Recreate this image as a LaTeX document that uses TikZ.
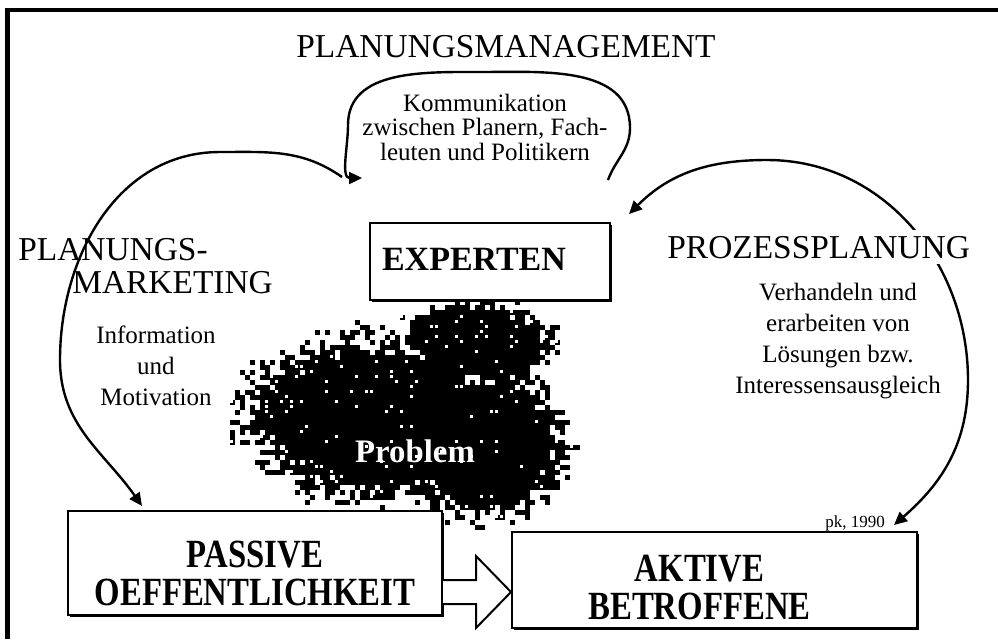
\documentclass[tikz,border=0pt]{standalone}
\usepackage{fontspec}
\setmainfont{Liberation Serif}
\newfontfamily\narrowserif[FakeStretch=0.82]{Liberation Serif}
\usetikzlibrary{arrows.meta, positioning, calc, shadows}

\begin{document}
\begin{tikzpicture}[
    x=0.5pt, y=0.5pt,
    heading/.style={font=\fontsize{16.7}{20}\selectfont, inner sep=0pt},
    remark/.style={font=\fontsize{12.5}{15.5}\selectfont, align=center, inner sep=0pt},
    box/.style={draw, line width=1pt, fill=white,
                drop shadow={shadow xshift=1.2pt, shadow yshift=-1.2pt, fill=black, opacity=1}},
    boxtext/.style={font=\bfseries\fontsize{17}{18.5}\selectfont, align=center, inner sep=0pt},
    grouptext/.style={font=\narrowserif\bfseries\fontsize{20}{19}\selectfont, align=center, inner sep=0pt},
    loopline/.style={line width=1.2pt},
    onehead/.style={-{Triangle[length=6.5pt, width=6pt]}},
    twoheads/.style={{Triangle[length=6.5pt, width=6pt]}-{Triangle[length=6.5pt, width=6pt]}},
    blockarrow/.style={draw, line width=1pt, fill=white, line join=miter}
  ]
  \useasboundingbox (0,0) rectangle (998,-639);

  % Frame, only top and left edge
  \draw[line width=2.4pt] (998,-10) -- (7.5,-10) -- (7.5,-639);

  % Problem cloud: grid of dots, solid inside three ellipses, thinning out at their rims
  \pgfmathsetseed{1990}
  \foreach \gx in {230,235,...,600} {
    \foreach \gy in {290,295,...,550} {
      \pgfmathsetmacro\dist{min(sqrt(((\gx-475)/80)^2+((\gy-340)/42)^2),
        sqrt(((\gx-370)/135)^2+((\gy-415)/85)^2), sqrt(((\gx-480)/88)^2+((\gy-440)/80)^2))}
      \pgfmathsetmacro\cut{0.72+0.42*rnd}
      \pgfmathsetmacro\speck{rnd}
      \ifdim\dist pt<\cut pt
        \fill (\gx,-\gy) rectangle ++(4.6,-4.6);
        \ifdim\speck pt<0.06pt \fill[white] (\gx,-\gy) rectangle ++(2.5,-2.5); \fi
      \fi
    }
  }

  % Boxes
  \node[box, minimum width=120pt, minimum height=38.5pt] (experten) at (490,-261.5) {};
  \node[box, minimum width=187pt, minimum height=52pt] (passive) at (255,-563) {};
  \node[box, minimum width=202.5pt, minimum height=48pt] (aktive) at (714.5,-580) {};

  \node[boxtext] (expertenlabel) at ($(experten)+(-16,2.5)$) {EXPERTEN};
  \node[grouptext] (passivelabel) at ($(passive)+(0,-10)$) {PASSIVE\\OEFFENTLICHKEIT};
  \node[grouptext] (aktivelabel) at ($(aktive)+(-15,-7)$) {AKTIVE\\BETROFFENE};

  % Open arrow from passive to active
  \draw[blockarrow] (passive.east |- 0,-580) -- (476,-580) -- (476,-556)
    -- (aktive.west |- 0,-592) -- (476,-628) -- (476,-604) -- (passive.east |- 0,-604);

  % Loops round the boxes
  \coordinate (lstart) at ($(experten.north west)+(-27,45)$);
  \coordinate (lend) at ($(passive.north west)+(75,4)$);
  \draw[loopline, onehead] (lstart) to[out=145,in=0] (220,-152)
    to[out=180,in=90] (60,-360) to[out=-90,in=125] (lend);

  \coordinate (rstart) at ($(experten.north east)+(18,8)$);
  \coordinate (rend) at ($(aktive.north east)+(-24,6)$);
  \draw[loopline, twoheads] (rstart) to[out=45,in=180] (767,-160)
    to[out=0,in=90] (968,-380) to[out=-90,in=41] (rend);

  \coordinate (kstart) at ($(experten.north east)+(-3,42)$);
  \coordinate (kend) at ($(experten.north west)+(-7,44)$);
  \draw[loopline, onehead] (kstart) to[out=70,in=-90] (630,-128)
    to[out=90,in=0] (480,-72) to[out=180,in=90] (348,-125) to[out=-90,in=180] (kend);

  % Labels
  \node[heading, anchor=base] (mgmt) at (506,-57) {PLANUNGSMANAGEMENT};
  \node[heading, anchor=base west] (mkt1) at (18,-260) {PLANUNGS-};
  \node[heading, anchor=base west] (mkt2) at (72,-293) {MARKETING};
  \node[heading, anchor=base west, fill=white, inner ysep=3pt] (prozess) at (667,-258) {PROZESSPLANUNG};

  \node[remark, font=\fontsize{12.5}{12.25}\selectfont] (komm) at (485,-127)
    {Kommunikation\\zwischen Planern, Fach-\\leuten und Politikern};
  \node[remark] (info) at (156,-365.5) {Information\\und\\Motivation};
  \node[remark] (verh) at (838,-340.7)
    {Verhandeln und\\erarbeiten von\\Lösungen bzw.\\Interessensausgleich};

  \node[font=\bfseries\fontsize{16.4}{18}\selectfont, text=white, anchor=base, inner sep=0pt]
    (problem) at (415,-462) {Problem};
  \node[font=\fontsize{8.5}{10}\selectfont, anchor=base, inner sep=0pt] (year) at (855,-527) {pk, 1990};
\end{tikzpicture}
\end{document}
